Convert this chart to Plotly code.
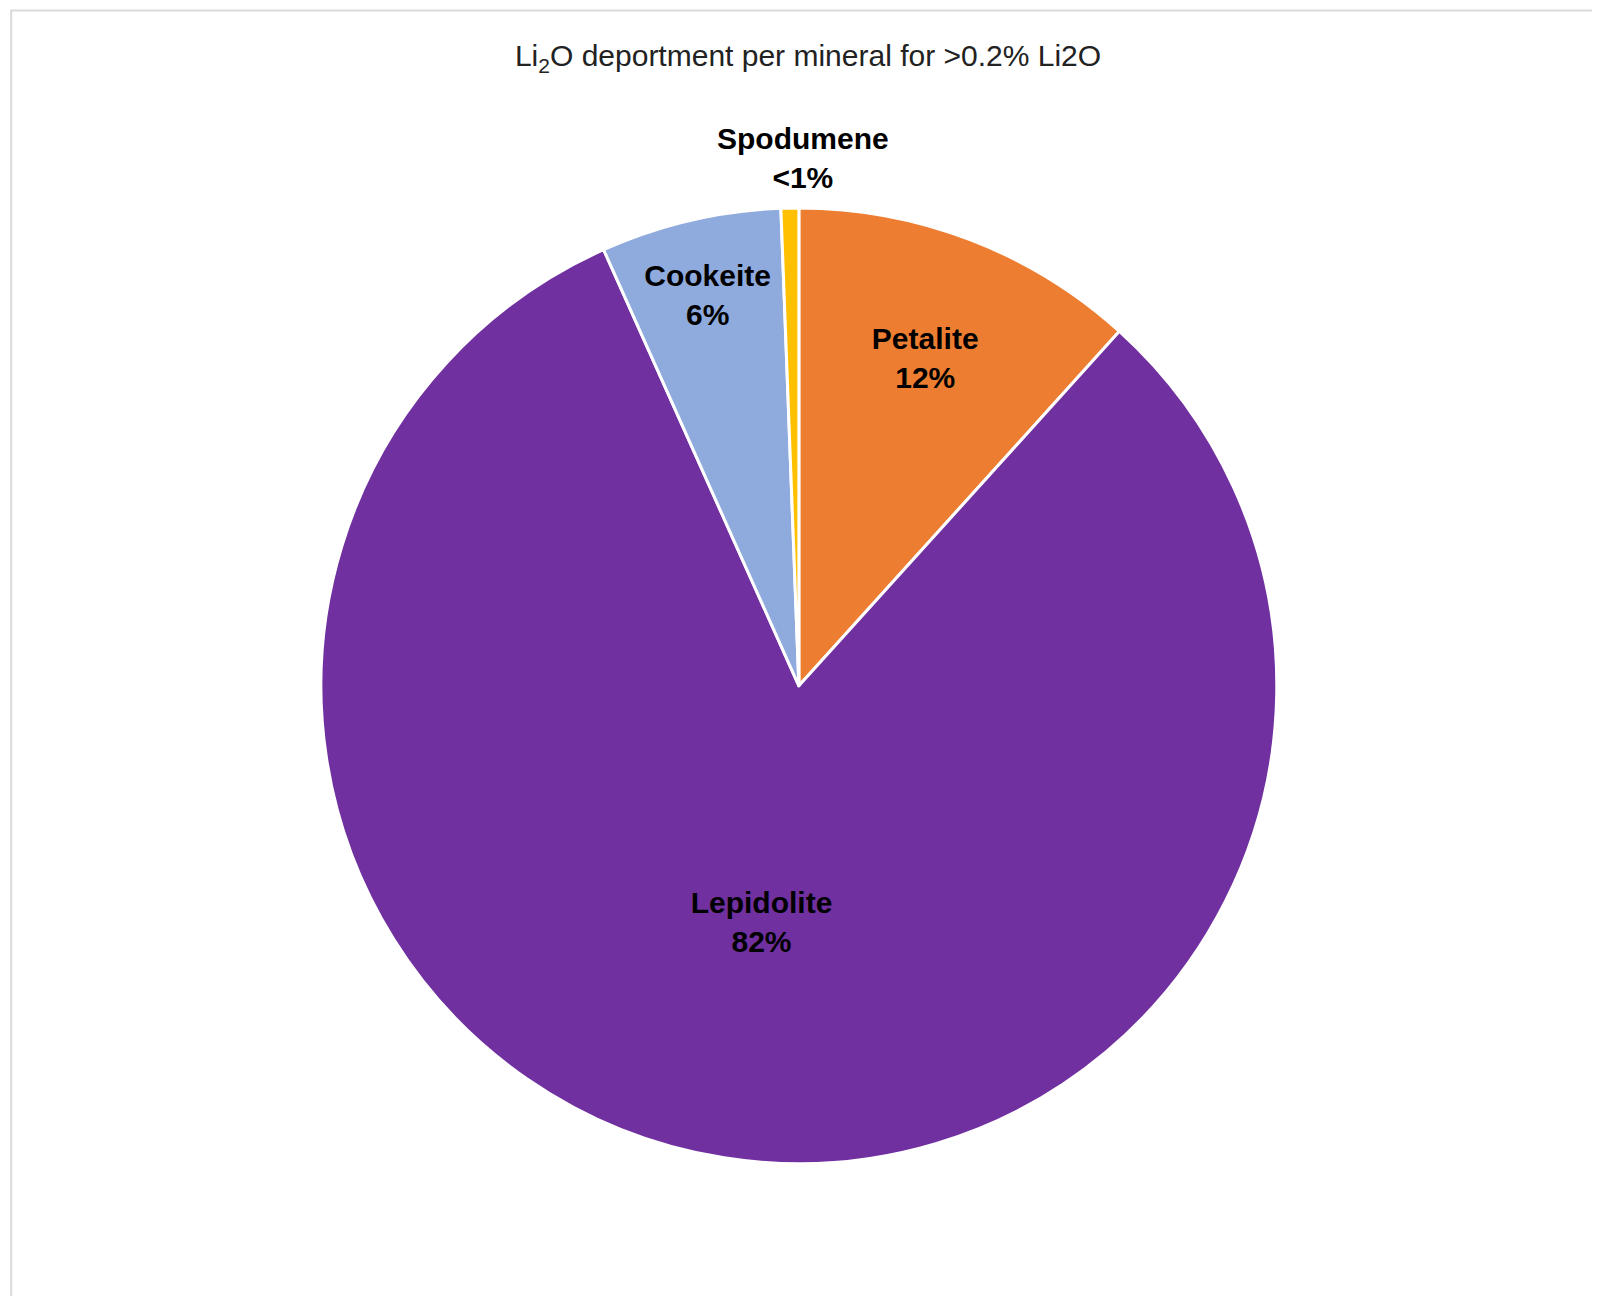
import plotly.graph_objects as go

# Li2O deportment per mineral (share of total, %)
minerals = ['Petalite', 'Lepidolite', 'Cookeite', 'Spodumene']
shares = [11.7, 81.6, 6.1, 0.6]
pct_labels = ['12%', '82%', '6%', '<1%']
colors = ['#ED7D31', '#7030A0', '#8FAADC', '#FFC000']

label_font = dict(family='Liberation Sans, Arial', size=30, color='black')

fig = go.Figure(go.Pie(
    labels=minerals,
    values=shares,
    text=pct_labels,
    texttemplate='<b>%{label}<br>%{text}</b>',
    textposition=['inside', 'inside', 'inside', 'none'],
    insidetextorientation='horizontal',
    textfont=label_font,
    marker=dict(colors=colors, line=dict(color='white', width=3)),
    sort=False,
    direction='clockwise',
    rotation=0,
    showlegend=False,
    hoverinfo='label+value',
    domain=dict(x=[0.1956, 0.793], y=[0.108, 0.846]),
))

fig.update_layout(
    title=dict(text='Li<sub>2</sub>O deportment per mineral for >0.2% Li2O',
               x=0.5, xanchor='center', y=0.963, yanchor='middle',
               font=dict(family='Liberation Sans, Arial', size=30, color='#222222')),
    width=1600, height=1296,
    margin=dict(l=0, r=0, t=0, b=0),
    paper_bgcolor='white',
    uniformtext=dict(minsize=30, mode='show'),
    annotations=[dict(text='<b>%s<br>%s</b>' % (minerals[3], pct_labels[3]),
                      xref='paper', yref='paper', x=0.497, y=0.855,
                      xanchor='center', yanchor='bottom', showarrow=False,
                      font=label_font)],
    shapes=[dict(type='rect', xref='paper', yref='paper', x0=0.002, y0=0.003, x1=0.997, y1=0.998,
                 line=dict(color='#D9D9D9', width=2))],
)

fig.write_html('out.html')
